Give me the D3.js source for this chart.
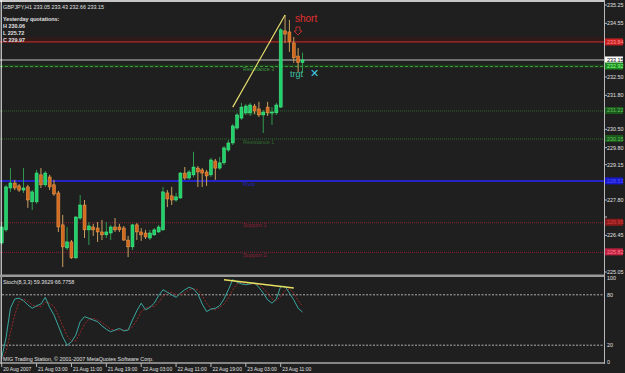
<!DOCTYPE html>
<html><head><meta charset="utf-8">
<script src="https://cdn.jsdelivr.net/npm/d3@7"></script>
<style>body{margin:0;background:#1f1f1f}svg{display:block}</style>
</head><body><script>
// ---------- DATA ----------
const barOpen  = [226.16,226.66,228.26,228.45,228.34,228.18,228.30,227.73,227.73,228.76,228.38,228.68,228.38,228.07,226.85,225.97,226.20,225.59,227.11,227.61,226.66,226.77,226.73,226.58,226.47,226.54,226.77,226.77,226.73,226.27,226.01,226.85,226.58,226.54,226.35,226.47,226.58,226.66,228.07,227.96,227.80,227.88,228.83,228.64,228.76,229.02,228.95,228.87,228.76,229.29,229.02,229.22,229.71,229.98,230.55,230.93,231.13,231.13,231.39,231.28,231.05,231.35,231.13,231.13,231.35,234.26,234.22,233.80,233.30,233.05];
const barHigh  = [226.96,228.38,229.02,228.57,228.41,229.02,228.38,228.18,228.95,229.02,228.91,228.76,228.57,228.15,227.23,226.77,226.27,227.19,227.99,227.80,226.96,226.89,226.96,227.04,226.96,226.85,227.11,226.89,226.81,226.43,226.89,226.92,226.73,226.66,226.66,226.73,226.85,228.30,228.18,228.30,228.07,228.87,229.06,228.95,229.64,229.10,229.02,228.95,229.41,229.37,229.44,229.86,230.09,230.71,231.13,231.51,231.47,231.51,231.47,231.55,231.24,231.55,231.35,231.51,234.37,234.87,234.68,234.03,233.61,233.43];
const barLow   = [226.08,226.58,228.11,228.18,228.11,228.07,227.50,227.42,227.65,228.26,228.30,228.18,227.96,226.58,225.24,225.89,225.55,225.55,227.04,226.35,226.08,226.43,226.20,226.27,226.35,226.27,226.58,226.58,226.24,225.62,225.89,226.27,226.24,226.31,226.27,226.43,226.54,226.62,227.53,227.61,227.73,227.84,228.57,228.57,228.68,228.30,228.30,228.34,228.68,228.57,228.95,229.14,229.64,229.90,230.48,230.86,231.05,231.01,231.09,230.97,230.36,231.01,230.67,231.05,231.32,233.80,233.46,233.04,232.69,232.66];
const barClose = [226.77,228.30,228.45,228.26,228.18,228.26,227.80,228.11,228.83,228.38,228.83,228.30,228.03,226.77,226.01,226.20,225.59,227.15,227.61,226.66,226.81,226.66,226.58,226.47,226.58,226.77,226.66,226.66,226.27,226.01,226.85,226.58,226.47,226.39,226.54,226.66,226.77,228.11,227.84,227.80,227.92,228.83,228.64,228.87,229.06,228.87,228.83,228.72,229.33,229.02,229.22,229.79,229.98,230.63,231.05,231.35,231.39,231.43,231.20,231.05,231.16,231.13,231.16,231.43,234.30,234.14,233.84,233.23,233.05,233.15];
const stochMain   = [5,29,64,75,76,73,68,64,67,69,77,65,56,43,30,20,24,32,48,54,52,50,48,43,39,36,38,40,37,38,50,61,70,62,65,70,79,86,83,80,77,82,86,89,87,81,69,60,63,64,67,75,86,98,95,93,92,93,94,89,82,74,70,75,90,90,82,74,64,59.36];
const stochSignal = [3,12,35,56,72,75,72,68,66,66,71,70,66,55,43,31,25,25,35,45,51,52,50,47,43,39,38,38,38,38,42,50,60,64,66,66,71,78,83,83,80,80,82,86,87,86,79,70,64,62,65,69,76,86,93,95,93,93,93,92,88,82,75,73,78,85,87,82,73,66.78];
const timeTickBars   = [0,8,16,24,32,40,48,56,64];
const timeTickLabels = ["20 Aug 2007","21 Aug 03:00","21 Aug 11:00","21 Aug 19:00","22 Aug 03:00","22 Aug 11:00","22 Aug 19:00","23 Aug 03:00","23 Aug 11:00"];
const priceTicks = [235.25,234.55,233.85,233.15,232.50,231.80,231.15,230.50,229.80,229.15,228.50,227.80,227.15,226.45,225.80,225.05];
const levelNames  = ["Resistance 3","Resistance 2","Resistance 1","Pivot","Support 1","Support 2"];
const levelPrices = [232.92,231.22,230.15,228.53,226.95,225.82];
const shortLevel = 233.84;
const bidPrice = 233.15;
const stochLevels = [80,20];
const stochAxis = [100,80,20,0];
const trendMain = [[53,231.35],[65,234.87]];
const trendStoch = [[51,98],[67,88]];
const headerText = "GBPJPY,H1 233.05 233.43 232.66 233.15";
const infoLines = ["Yesterday quotations:","H 230.06","L 225.72","C 229.97"];
const stochTitle = "Stoch(8,3,3) 59.3629 66.7758";
const footer = "MIG Trading Station, \u00a9 2001-2007 MetaQuotes Software Corp.";

// ---------- CHART ----------
const W=625,H=373;
const FS=5.4;
const svg=d3.select("body").append("svg").attr("width",W).attr("height",H)
  .style("font-family","'Liberation Sans',Arial,sans-serif");
svg.append("rect").attr("width",W).attr("height",H).attr("fill","#1f1f1f");

const x=d3.scaleLinear().domain([0,69]).range([1.7,302.5]);
const y=d3.scaleLinear().domain([225.05,235.25]).range([272,5]);
const ys=d3.scaleLinear().domain([0,100]).range([362,278]);
const plotR=604;

// level lines
const lvlColor=["#3c9a3c","#2e6a2e","#2e6a2e","#2424c8","#8a2038","#8a2038"];
const lvlDash=["3,2","1,1","1,1",null,"1,1","1,1"];
levelPrices.forEach((p,i)=>{
  if(i===3){
    svg.append("line").attr("x1",0).attr("x2",plotR).attr("y1",y(p)).attr("y2",y(p))
      .attr("stroke",lvlColor[i]).attr("stroke-width",2);
  } else {
    if(i===0) svg.append("line").attr("x1",0).attr("x2",plotR).attr("y1",y(p)).attr("y2",y(p))
      .attr("stroke","#1d3a1d").attr("stroke-width",3);
    svg.append("line").attr("x1",0).attr("x2",plotR).attr("y1",y(p)+0.5).attr("y2",y(p)+0.5)
      .attr("stroke",lvlColor[i]).attr("stroke-width",1).attr("stroke-dasharray",lvlDash[i]);
  }
  svg.append("text").attr("x",243).attr("y",y(p)+5).attr("font-size",FS)
    .attr("fill",lvlColor[i]).text(levelNames[i]);
});
// short (red) line
svg.append("rect").attr("x",0).attr("width",plotR).attr("y",y(shortLevel)-5).attr("height",6).attr("fill","#2f1a1a");
svg.append("line").attr("x1",0).attr("x2",plotR).attr("y1",y(shortLevel)).attr("y2",y(shortLevel))
  .attr("stroke","#b02828").attr("stroke-width",1.2);
// bid line
svg.append("line").attr("x1",0).attr("x2",plotR).attr("y1",y(bidPrice)).attr("y2",y(bidPrice))
  .attr("stroke","#8c8c8c").attr("stroke-width",1.5);

// candles
const idx=d3.range(barOpen.length);
const g=svg.append("g");
idx.forEach(i=>{
  const up=barClose[i]>=barOpen[i];
  g.append("line").attr("x1",x(i)).attr("x2",x(i)).attr("y1",y(barHigh[i])).attr("y2",y(barLow[i]))
    .attr("stroke",up?"#2f9a4f":"#c8a060").attr("stroke-width",1);
  const top=y(Math.max(barOpen[i],barClose[i])), bot=y(Math.min(barOpen[i],barClose[i]));
  g.append("rect").attr("x",x(i)-1.5).attr("width",3).attr("y",top).attr("height",Math.max(1,bot-top))
    .attr("fill",up?"#20d068":"#d2691e").attr("stroke",up?"#50f090":"#f0a050").attr("stroke-width",0.5);
});

// trend line main
svg.append("line").attr("x1",x(trendMain[0][0])).attr("y1",y(trendMain[0][1]))
  .attr("x2",x(trendMain[1][0])).attr("y2",y(trendMain[1][1])).attr("stroke","#e8e070").attr("stroke-width",1.2);

// annotations
svg.append("text").attr("x",295).attr("y",22).attr("font-size",10).attr("fill","#e03030").text("short");
svg.append("path").attr("d","M296,27 h4 v4 h2 l-4,4 l-4,-4 h2 z").attr("fill","none").attr("stroke","#e03030").attr("stroke-width",0.8);
svg.append("text").attr("x",290).attr("y",77).attr("font-size",9).attr("fill","#40c0a0").text("trgt");
svg.append("text").attr("x",310).attr("y",77).attr("font-size",11).attr("fill","#40c8e0").text("\u2715");

// header texts
svg.append("text").attr("x",3).attr("y",9).attr("font-size",FS).attr("fill","#e0e0e0").text(headerText);
infoLines.forEach((t,i)=>svg.append("text").attr("x",3).attr("y",21+i*7).attr("font-size",FS)
  .attr("fill","#e0e0e0").attr("font-weight","bold").text(t));

// stoch panel
stochLevels.forEach(v=>svg.append("line").attr("x1",2).attr("x2",plotR).attr("y1",ys(v)).attr("y2",ys(v))
  .attr("stroke","#b0b0b0").attr("stroke-dasharray","2,1.5").attr("stroke-width",1));
const lineGen=d3.line().x((d,i)=>x(i)).y(d=>ys(d));
svg.append("path").datum(stochSignal).attr("d",lineGen).attr("fill","none")
  .attr("stroke","#a02828").attr("stroke-width",1).attr("stroke-dasharray","2,1.5");
svg.append("path").datum(stochMain).attr("d",lineGen).attr("fill","none")
  .attr("stroke","#3aa8a0").attr("stroke-width",1);
svg.append("line").attr("x1",x(trendStoch[0][0])).attr("y1",ys(trendStoch[0][1]))
  .attr("x2",x(trendStoch[1][0])).attr("y2",ys(trendStoch[1][1])).attr("stroke","#e8e060").attr("stroke-width",1.5);
svg.append("text").attr("x",3).attr("y",284).attr("font-size",FS).attr("fill","#e0e0e0").text(stochTitle);
svg.append("text").attr("x",3).attr("y",361).attr("font-size",FS).attr("fill","#e0e0e0").text(footer);

// frame
svg.append("line").attr("x1",0).attr("x2",plotR).attr("y1",1).attr("y2",1).attr("stroke","#ffffff").attr("stroke-width",1.5);
svg.append("line").attr("x1",1.2).attr("x2",1.2).attr("y1",0).attr("y2",364).attr("stroke","#ffffff").attr("stroke-width",1);
svg.append("rect").attr("x",0).attr("width",plotR).attr("y",274.5).attr("height",2.5).attr("fill","#9a9a9a");
svg.append("line").attr("x1",0).attr("x2",plotR+1).attr("y1",363).attr("y2",363).attr("stroke","#a8a8a8").attr("stroke-width",1.5);
svg.append("line").attr("x1",plotR+0.5).attr("x2",plotR+0.5).attr("y1",0).attr("y2",364).attr("stroke","#b8b8b8").attr("stroke-width",1);

// price axis
const pa=svg.append("g");
const boxed=[shortLevel,bidPrice].concat(levelPrices);
priceTicks.forEach(p=>{
  pa.append("line").attr("x1",plotR).attr("x2",plotR+3).attr("y1",y(p)).attr("y2",y(p)).attr("stroke","#b8b8b8");
  if(boxed.some(b=>Math.abs(y(b)-y(p))<7)) return; // hidden behind a price box
  pa.append("text").attr("x",607).attr("y",y(p)+2).attr("font-size",FS).attr("fill","#e0e0e0").text(p.toFixed(2));
});
// colored price boxes
function box(p,fill,txtColor){
  pa.append("rect").attr("x",605).attr("y",y(p)-3.5).attr("width",18).attr("height",7).attr("fill",fill);
  pa.append("text").attr("x",607).attr("y",y(p)+2).attr("font-size",FS).attr("fill",txtColor).text(p.toFixed(2));
}
box(shortLevel,"#c82020","#ff9090");
box(bidPrice,"#ffffff","#000000");
box(levelPrices[0],"#1f8a1f","#90ff90");
box(levelPrices[1],"#1a5a1a","#60c060");
box(levelPrices[2],"#1a5a1a","#60c060");
box(levelPrices[3],"#1818c8","#5050ff");
box(levelPrices[4],"#8a1a1a","#d04040");
box(levelPrices[5],"#c02040","#ff8090");
// stoch axis
stochAxis.forEach(v=>{
  pa.append("text").attr("x",607).attr("y",ys(v)+2).attr("font-size",FS).attr("fill","#e0e0e0").text(v);
});

// time axis
timeTickBars.forEach((b,i)=>{
  svg.append("line").attr("x1",x(b)).attr("x2",x(b)).attr("y1",363).attr("y2",367).attr("stroke","#b8b8b8");
  svg.append("text").attr("x",x(b)+1.5).attr("y",371).attr("font-size",5).attr("fill","#e0e0e0").text(timeTickLabels[i]);
});
</script></body></html>
